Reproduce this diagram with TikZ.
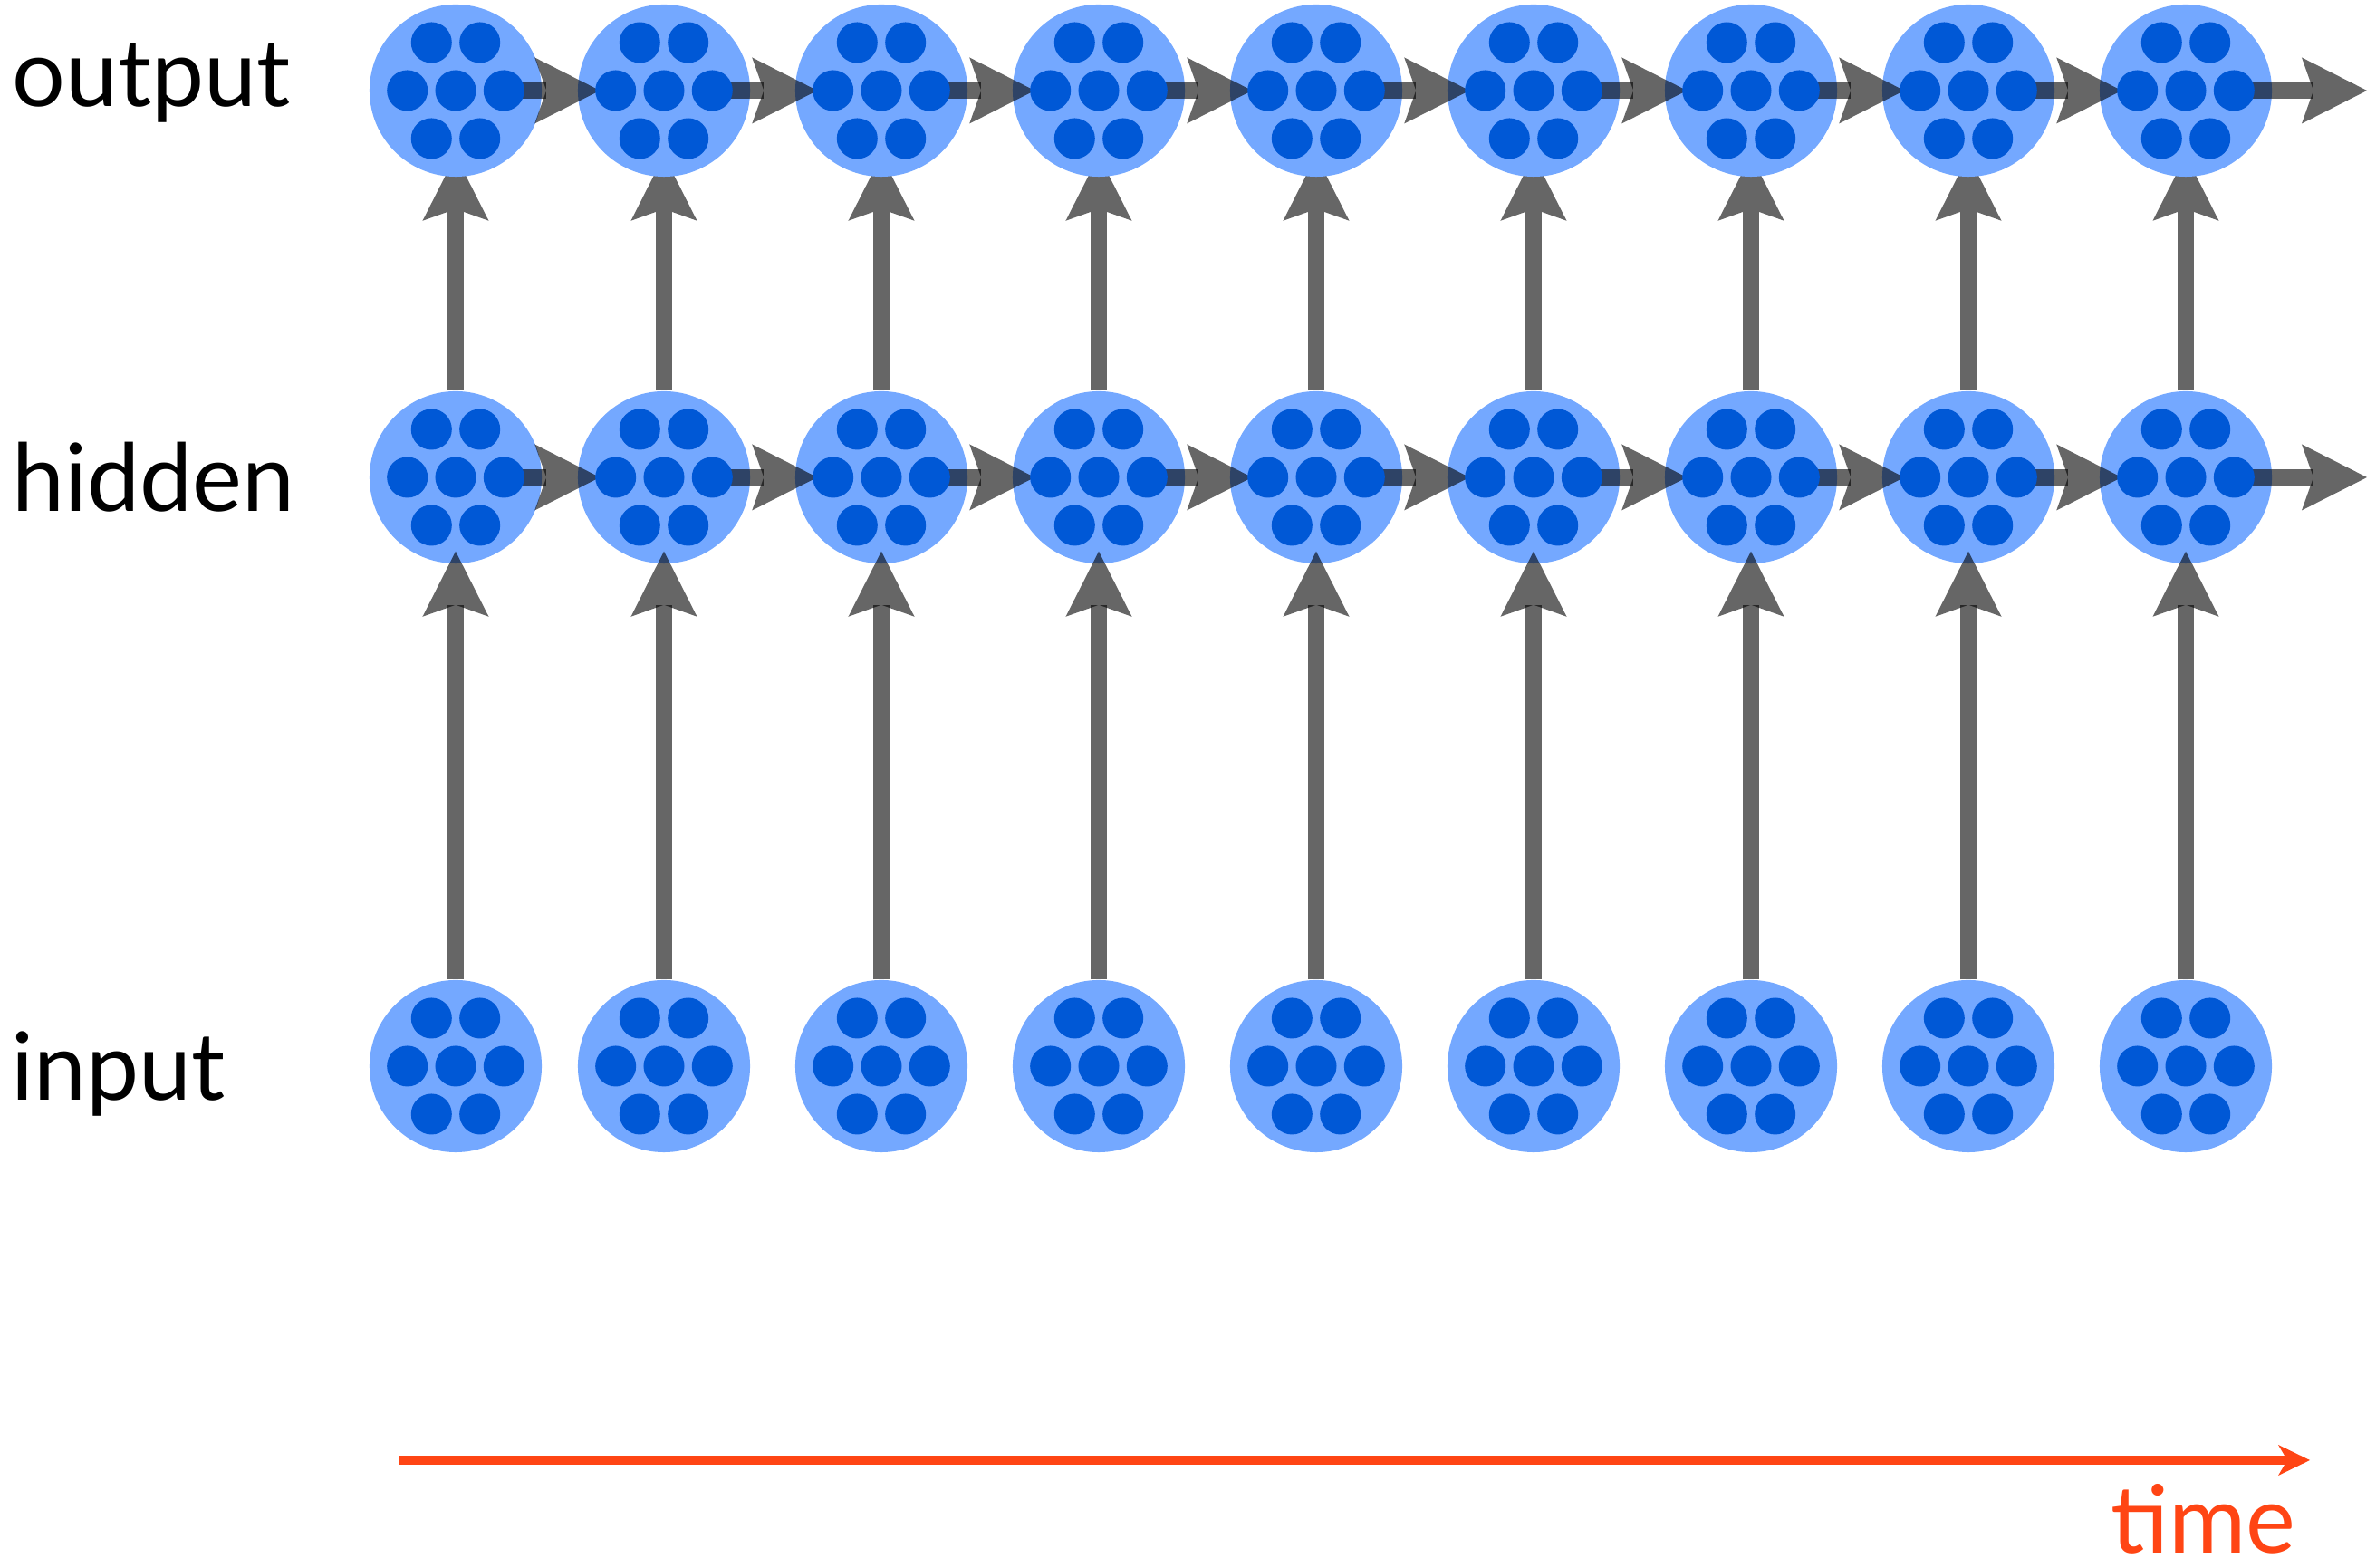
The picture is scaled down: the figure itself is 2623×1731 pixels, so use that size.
\documentclass[tikz,border=0pt]{standalone}
\usepackage{fontspec}
\setmainfont{Lato}
\usetikzlibrary{arrows.meta,calc}
\definecolor{cellblue}{RGB}{116,168,255}
\definecolor{unitblue}{RGB}{0,88,214}
\definecolor{linkgray}{RGB}{102,102,102}
\definecolor{timered}{RGB}{255,69,20}
\pgfdeclarelayer{background}
\pgfsetlayers{background,main}
\tikzset{
  cell/.style={
    circle,
    fill=cellblue,
    minimum size=1.9cm,
    inner sep=0pt
  },
  link/.style={
    draw=linkgray,
    line width=5.2pt,
    -{Stealth[length=0.72cm,width=0.73cm,inset=0.13cm,line width=0pt]}
  },
  timearrow/.style={
    draw=timered,
    line width=2.6pt,
    -{Stealth[length=0.35cm,width=0.34cm,inset=0.1cm,line width=0pt]}
  },
  rowlabel/.style={
    anchor=base west,
    inner sep=0pt,
    font=\fontsize{29.5}{34}\selectfont
  }
}

\begin{document}
\begin{tikzpicture}[x=0.01cm,y=0.01cm]
  \useasboundingbox (0,0) rectangle (2623,1731);

  % cells, one column per time step
  \foreach \c/\x in {1/503,2/733,3/973,4/1213,5/1453,6/1693,7/1933,8/2173,9/2413} {
    \node[cell] (o\c) at (\x,1631) {};
    \node[cell] (h\c) at (\x,1204) {};
    \node[cell] (i\c) at (\x,554) {};
  }

  % hidden -> output, tips run under the output cells
  \begin{pgfonlayer}{background}
    \foreach \c in {1,...,9}
      \draw[link] (h\c) -- ([yshift=0.24cm]o\c.south);
  \end{pgfonlayer}

  % recurrent and input links
  \begin{scope}[blend mode=multiply]
    \foreach \c [evaluate=\c as \n using int(\c+1)] in {1,...,8} {
      \draw[link] ([xshift=0.53cm]o\c.center) -- ([xshift=0.25cm]o\n.west);
      \draw[link] ([xshift=0.53cm]h\c.center) -- ([xshift=0.25cm]h\n.west);
    }
    \coordinate (oend) at (2613,1631);
    \coordinate (hend) at (2613,1204);
    \draw[link] ([xshift=0.53cm]o9.center) -- (oend);
    \draw[link] ([xshift=0.53cm]h9.center) -- (hend);
    \foreach \c in {1,...,9}
      \draw[link] (i\c) -- ([yshift=0.14cm]h\c.south);
  \end{scope}

  % units inside each cell
  \foreach \c in {1,...,9}
    \foreach \r in {o,h,i}
      \foreach \dx/\dy in {-26.7/53,26.7/53,-53.3/0,0/0,53.3/0,-26.7/-53,26.7/-53}
        \fill[unitblue] ($(\r\c)+(\dx,\dy)$) circle (0.225cm);

  % row labels
  \node[rowlabel] (outlab) at (13,1613) {output};
  \node[rowlabel] (hidlab) at (13,1166) {hidden};
  \node[rowlabel] (inlab) at (12,516) {input};

  % time axis
  \coordinate (tstart) at (440,119);
  \coordinate (tend) at (2550,119);
  \draw[timearrow] (tstart) -- (tend);
  \node[rowlabel, anchor=base east, text=timered] (timelab) at (2535,16) {time};
\end{tikzpicture}
\end{document}
